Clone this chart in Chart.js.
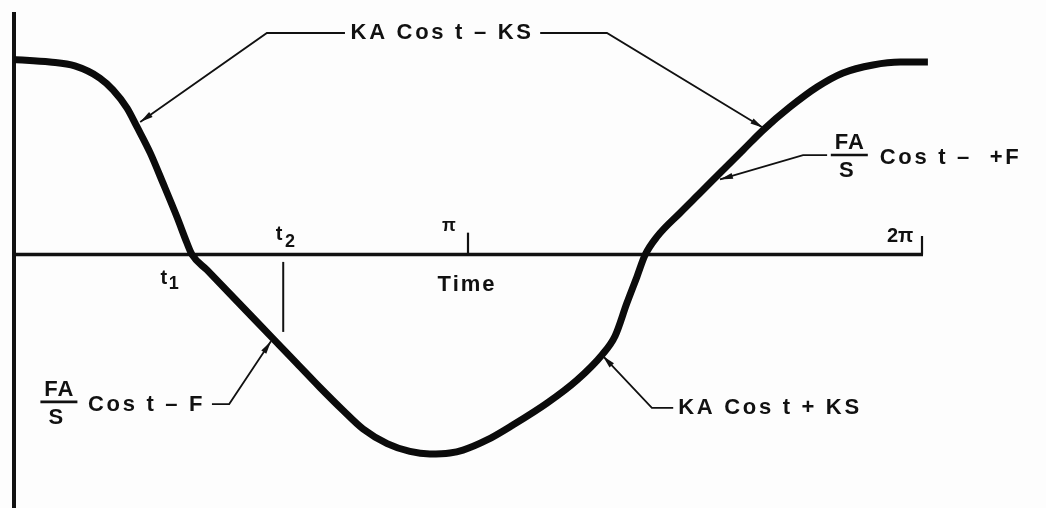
<!DOCTYPE html>
<html>
<head>
<meta charset="utf-8">
<style>
  html, body { margin: 0; padding: 0; background: #fdfdfd; }
  #wrap { width: 1046px; height: 508px; position: relative; }
</style>
</head>
<body>
<div id="wrap"><canvas id="chart"></canvas></div>

<script src="https://cdn.jsdelivr.net/npm/chart.js"></script>
<script>
// time along the axis, in multiples of pi
const timeOverPi = [0.000, 0.079, 0.134, 0.189, 0.218, 0.249, 0.271, 0.300, 0.328, 0.359,
  0.381, 0.392, 0.425, 0.520, 0.570, 0.623, 0.674, 0.725, 0.769,
  0.822, 0.872, 0.916, 0.960, 0.989, 1.042, 1.099, 1.174, 1.240, 1.295,
  1.324, 1.350, 1.372, 1.390, 1.416, 1.467, 1.511, 1.555, 1.606, 1.650,
  1.709, 1.769, 1.826, 1.892, 1.952, 2.013];
// force, normalised to the peak of the curve
const force = [1.000, 0.987, 0.967, 0.905, 0.844, 0.751, 0.654, 0.521, 0.367, 0.192,
  0.059, 0.000, -0.079, -0.309, -0.430, -0.558, -0.682, -0.800, -0.895,
  -0.970, -1.010, -1.023, -1.018, -1.003, -0.951, -0.874, -0.762, -0.644, -0.515,
  -0.418, -0.249, -0.115, -0.003, 0.090, 0.213, 0.315, 0.418, 0.536, 0.638,
  0.756, 0.859, 0.931, 0.972, 0.987, 0.987];

const tickTimes = [1, 2];            // pi, 2pi marks on the axis
const tickLabels = ['\u03c0', '2\u03c0'];
const t1 = 0.392;                    // first zero crossing
const t2 = 0.593;                    // marked instant t2

const INK = '#111';
const FONT = 'bold 22px "Liberation Sans", Arial, sans-serif';
const SMALL = size => 'bold ' + size + 'px "Liberation Sans", Arial, sans-serif';

// helper: data coords -> pixels
function px(chart, t, v) {
  return [chart.scales.x.getPixelForValue(t), chart.scales.y.getPixelForValue(v)];
}

function line(ctx, pts, w) {
  ctx.beginPath();
  ctx.moveTo(pts[0][0], pts[0][1]);
  for (let i = 1; i < pts.length; i++) ctx.lineTo(pts[i][0], pts[i][1]);
  ctx.lineWidth = w;
  ctx.stroke();
}

function arrowHead(ctx, from, tip) {
  const a = Math.atan2(tip[1] - from[1], tip[0] - from[0]);
  const len = 13, half = 3;
  ctx.save();
  ctx.translate(tip[0], tip[1]);
  ctx.rotate(a);
  ctx.beginPath();
  ctx.moveTo(0, 0);
  ctx.lineTo(-len, -half);
  ctx.lineTo(-len, half);
  ctx.closePath();
  ctx.fill();
  ctx.restore();
}

// leader line given in data coords, arrow at the last point
function leader(chart, ctx, pts) {
  const p = pts.map(q => px(chart, q[0], q[1]));
  line(ctx, p, 1.8);
  arrowHead(ctx, p[p.length - 2], p[p.length - 1]);
}

function text(chart, ctx, str, t, v, align, font, spacing) {
  const [x, y] = px(chart, t, v);
  ctx.font = font || FONT;
  ctx.letterSpacing = (spacing === undefined ? 2.7 : spacing) + 'px';
  ctx.textAlign = align || 'center';
  ctx.textBaseline = 'middle';
  ctx.fillText(str, x, y);
}

// FA over S with a bar between them
function fraction(chart, ctx, t, v) {
  const [x, y] = px(chart, t, v);
  ctx.font = FONT;
  ctx.letterSpacing = '1px';
  ctx.textAlign = 'center';
  ctx.textBaseline = 'middle';
  ctx.fillText('FA', x, y - 12);
  ctx.fillText('S', x - 3, y + 16);
  line(ctx, [[x - 19, y], [x + 18, y]], 2.6);
}

const axesPlugin = {
  id: 'axes',
  beforeDatasetsDraw(chart) {
    const ctx = chart.ctx;
    const area = chart.chartArea;
    ctx.save();
    ctx.strokeStyle = INK;
    ctx.lineCap = 'butt';
    // vertical axis
    const [x0, yTop] = px(chart, 0, 1.244);
    line(ctx, [[x0, yTop], [x0, area.bottom]], 4);
    // time axis
    const [, y0] = px(chart, 0, 0);
    const [xEnd] = px(chart, 2, 0);
    line(ctx, [[x0, y0], [xEnd + 1, y0]], 3.5);
    // upward ticks at pi and 2pi
    tickTimes.forEach(t => {
      const a = px(chart, t, 0), b = px(chart, t, t === 2 ? 0.095 : 0.112);
      line(ctx, [a, b], 2.2);
    });
    // t2 marker below the axis
    line(ctx, [px(chart, t2, -0.038), px(chart, t2, -0.397)], 2);
    ctx.restore();
  },
  afterDatasetsDraw(chart) {
    const ctx = chart.ctx;
    ctx.save();
    ctx.fillStyle = INK;
    ctx.strokeStyle = INK;

    // axis labels
    text(chart, ctx, tickLabels[0], 0.958, 0.146, 'center', SMALL(18), 0);
    text(chart, ctx, tickLabels[1], 1.952, 0.092, 'center', SMALL(20), 0);
    text(chart, ctx, 't', 0.584, 0.105, 'center', SMALL(20), 0);
    text(chart, ctx, '2', 0.608, 0.066, 'center', SMALL(18), 0);
    text(chart, ctx, 't', t1 - 0.062, -0.121, 'center', SMALL(20), 0);
    text(chart, ctx, '1', t1 - 0.040, -0.149, 'center', SMALL(18), 0);
    text(chart, ctx, 'Time', 0.998, -0.156, 'center', FONT, 2);

    // KA Cos t - KS (upper)
    text(chart, ctx, 'KA Cos t \u2013 KS', 0.943, 1.136, 'center');
    leader(chart, ctx, [[0.729, 1.136], [0.557, 1.136], [0.278, 0.680]]);
    leader(chart, ctx, [[1.159, 1.136], [1.306, 1.136], [1.650, 0.650]]);

    // FA/S Cos t - +F (right)
    fraction(chart, ctx, 1.841, 0.510);
    text(chart, ctx, 'Cos t \u2013  +F', 1.907, 0.497, 'left');
    leader(chart, ctx, [[1.791, 0.510], [1.738, 0.510], [1.555, 0.385]]);

    // FA/S Cos t - F (lower left)
    fraction(chart, ctx, 0.100, -0.756);
    text(chart, ctx, 'Cos t \u2013 F', 0.163, -0.772, 'left');
    leader(chart, ctx, [[0.436, -0.767], [0.474, -0.767], [0.566, -0.445]]);

    // KA Cos t + KS (lower right)
    text(chart, ctx, 'KA Cos t + KS', 1.463, -0.787, 'left');
    leader(chart, ctx, [[1.452, -0.787], [1.405, -0.787], [1.297, -0.520]]);

    ctx.restore();
  }
};

new Chart(document.getElementById('chart'), {
  type: 'line',
  data: {
    datasets: [{
      data: timeOverPi.map((t, i) => ({ x: t, y: force[i] })),
      borderColor: '#0b0b0b',
      borderWidth: 7,
      borderCapStyle: 'butt',
      borderJoinStyle: 'round',
      pointRadius: 0,
      fill: false,
      cubicInterpolationMode: 'monotone'
    }]
  },
  options: {
    responsive: true,
    maintainAspectRatio: false,
    animation: false,
    layout: { padding: { left: 14, right: 33.2, top: 1, bottom: 0 } },
    plugins: { legend: { display: false }, tooltip: { enabled: false } },
    scales: {
      x: { type: 'linear', min: 0, max: 2.2, display: false },
      y: { min: -1.3, max: 1.3, display: false }
    }
  },
  plugins: [axesPlugin]
});
</script>
</body>
</html>
